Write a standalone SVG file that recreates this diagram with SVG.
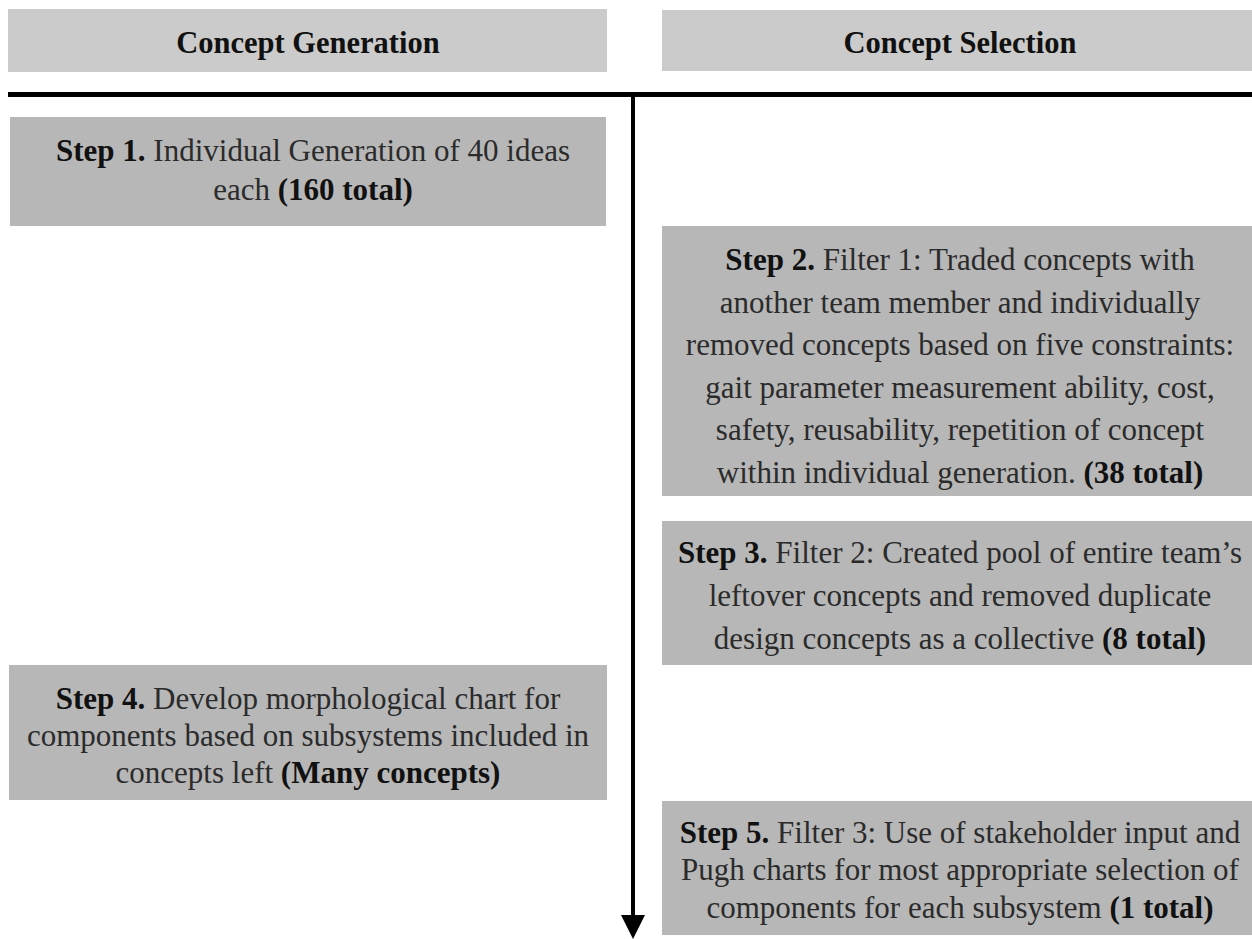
<svg xmlns="http://www.w3.org/2000/svg" width="1252" height="939" viewBox="0 0 1252 939">
<style>
.hdr{fill:#cbcbcb}
.box{fill:#b7b7b7}
.ht{font-family:"Liberation Serif","Times New Roman",serif;font-size:30.5px;font-weight:bold;fill:#111;text-anchor:middle}
.t{font-family:"Liberation Serif","Times New Roman",serif;font-size:31px;fill:#2b2b2b;text-anchor:middle}
.b{font-weight:bold;fill:#111}
</style>
<rect width="1252" height="939" fill="#ffffff"/>
<g id="header-generation">
<rect class="hdr" x="8" y="9" width="599" height="63"/>
<text class="ht" x="308" y="53">Concept Generation</text>
</g>
<g id="header-selection">
<rect class="hdr" x="662" y="10" width="590" height="61"/>
<text class="ht" x="960" y="53">Concept Selection</text>
</g>
<g id="connectors">
<line x1="8" y1="94.5" x2="1252" y2="94.5" stroke="#000" stroke-width="5"/>
<line x1="633" y1="96" x2="633" y2="917" stroke="#000" stroke-width="4"/>
<polygon points="621,915 645,915 633,939" fill="#000"/>
</g>
<g id="step1">
<rect class="box" x="10" y="117" width="596" height="109"/>
<text class="t" x="313" y="161"><tspan class="b">Step 1.</tspan> Individual Generation of 40 ideas</text>
<text class="t" x="313" y="200">each <tspan class="b">(160 total)</tspan></text>
</g>
<g id="step2">
<rect class="box" x="662" y="226" width="590" height="270"/>
<text class="t" x="960" y="270"><tspan class="b">Step 2.</tspan> Filter 1: Traded concepts with</text>
<text class="t" x="960" y="312.5">another team member and individually</text>
<text class="t" x="960" y="355">removed concepts based on five constraints:</text>
<text class="t" x="960" y="397.5">gait parameter measurement ability, cost,</text>
<text class="t" x="960" y="440">safety, reusability, repetition of concept</text>
<text class="t" x="960" y="482.5">within individual generation. <tspan class="b">(38 total)</tspan></text>
</g>
<g id="step3">
<rect class="box" x="662" y="521" width="590" height="144"/>
<text class="t" x="960" y="563"><tspan class="b">Step 3.</tspan> Filter 2: Created pool of entire team’s</text>
<text class="t" x="960" y="606">leftover concepts and removed duplicate</text>
<text class="t" x="960" y="649">design concepts as a collective <tspan class="b">(8 total)</tspan></text>
</g>
<g id="step4">
<rect class="box" x="9" y="665" width="598" height="135"/>
<text class="t" x="308" y="709"><tspan class="b">Step 4.</tspan> Develop morphological chart for</text>
<text class="t" x="308" y="746">components based on subsystems included in</text>
<text class="t" x="308" y="783">concepts left <tspan class="b">(Many concepts)</tspan></text>
</g>
<g id="step5">
<rect class="box" x="662" y="801" width="590" height="134"/>
<text class="t" x="960" y="843"><tspan class="b">Step 5.</tspan> Filter 3: Use of stakeholder input and</text>
<text class="t" x="960" y="880">Pugh charts for most appropriate selection of</text>
<text class="t" x="960" y="918">components for each subsystem <tspan class="b">(1 total)</tspan></text>
</g>
</svg>
